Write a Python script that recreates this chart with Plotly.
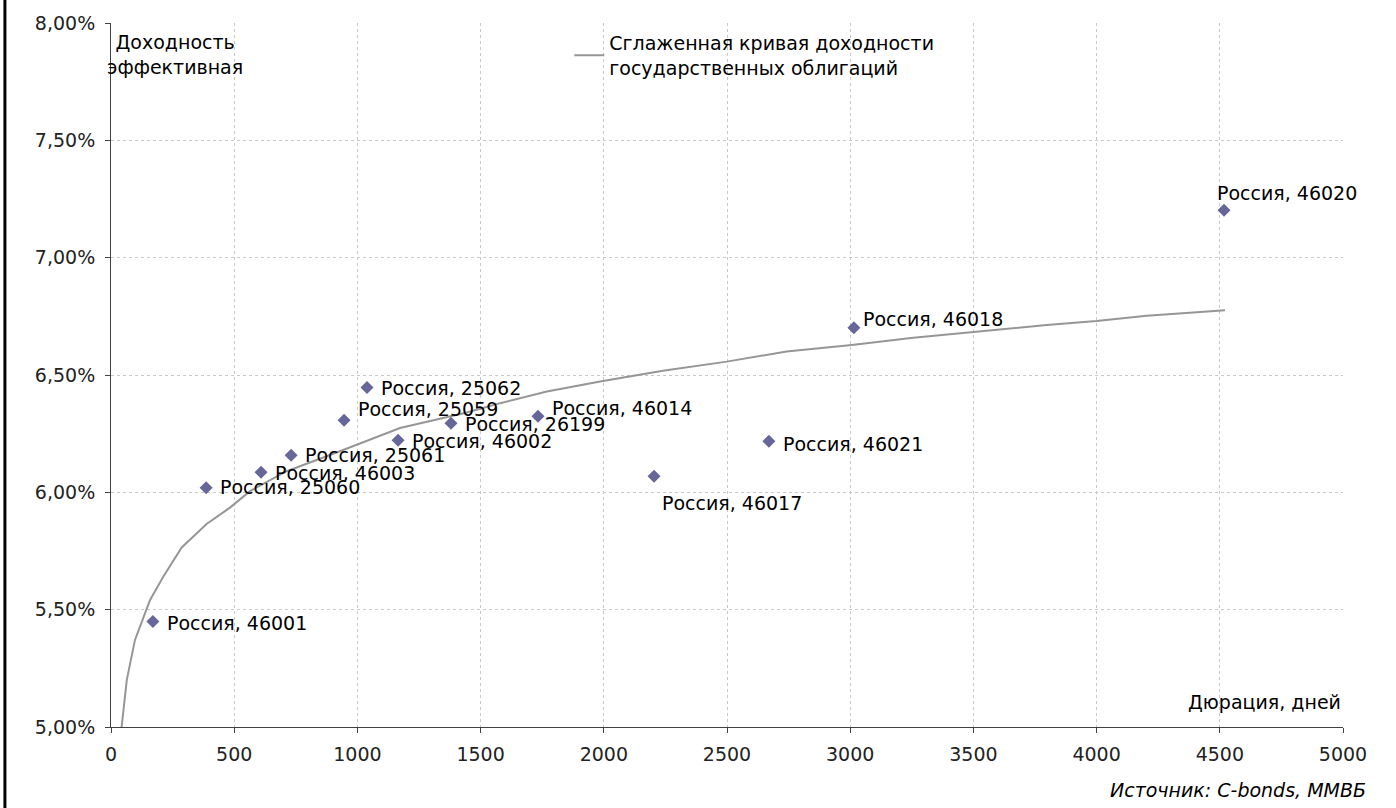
import plotly.graph_objects as go

# ---- data ----
bond_names = ["Россия, 46001", "Россия, 25060", "Россия, 46003", "Россия, 25061",
              "Россия, 25059", "Россия, 25062", "Россия, 46002", "Россия, 26199",
              "Россия, 46014", "Россия, 46017", "Россия, 46021", "Россия, 46018",
              "Россия, 46020"]
bond_duration = [170, 386, 609, 731, 946, 1039, 1165, 1380, 1733, 2204, 2670, 3015, 4517]
bond_yield = [5.45, 6.02, 6.086, 6.158, 6.307, 6.447, 6.222, 6.294, 6.324, 6.069, 6.218, 6.701, 7.202]

curve_duration = [43, 64, 97, 131, 158, 212, 287, 388, 483, 564, 713, 929, 1173, 1444,
                  1579, 1769, 1985, 2240, 2499, 2742, 3006, 3256, 3500, 3797, 4000,
                  4203, 4392, 4521]
curve_yield = [5.00, 5.20, 5.37, 5.47, 5.54, 5.64, 5.765, 5.865, 5.935, 6.005, 6.09,
               6.175, 6.274, 6.34, 6.38, 6.43, 6.472, 6.518, 6.557, 6.60, 6.628, 6.659,
               6.684, 6.713, 6.730, 6.752, 6.766, 6.776]

x_ticks = [0, 500, 1000, 1500, 2000, 2500, 3000, 3500, 4000, 4500, 5000]
y_ticks = [5.0, 5.5, 6.0, 6.5, 7.0, 7.5, 8.0]
y_tick_labels = ["5,00%", "5,50%", "6,00%", "6,50%", "7,00%", "7,50%", "8,00%"]

# label placement (style only): (xanchor, yanchor, xshift, yshift)
label_style = [
    ("left", "middle", 12, -2), ("left", "middle", 12, 1), ("left", "middle", 12, -1),
    ("left", "middle", 12, 0), ("left", "middle", 12, 11), ("left", "middle", 12, -1),
    ("left", "middle", 12, -1), ("left", "middle", 12, -1), ("left", "middle", 12, 8),
    ("left", "top", 6, -14), ("left", "middle", 12, -3), ("left", "middle", 7, 9),
    ("left", "bottom", -9, 4),
]

FONT = "DejaVu Sans, Verdana, sans-serif"
FS = 19

fig = go.Figure()
fig.add_trace(go.Scatter(
    x=curve_duration, y=curve_yield, mode="lines",
    name="Сглаженная кривая доходности<br>государственных облигаций",
    line=dict(color="#969696", width=2),
    hoverinfo="skip",
))
fig.add_trace(go.Scatter(
    x=bond_duration, y=bond_yield, mode="markers",
    marker=dict(symbol="diamond", size=10, color="#666699"),
    showlegend=False, text=bond_names,
))

for name, xd, yd, st in zip(bond_names, bond_duration, bond_yield, label_style):
    xa, ya, xs, ys = st
    fig.add_annotation(x=xd, y=yd, xref="x", yref="y", text=name, showarrow=False,
                       xanchor=xa, yanchor=ya, xshift=xs, yshift=ys,
                       font=dict(family=FONT, size=FS, color="#000000"))

grid = dict(showgrid=True, gridcolor="#c8c8c8", gridwidth=1, griddash="dot")

fig.update_xaxes(range=[0, 5000], tickvals=x_ticks, ticks="outside", ticklen=5,
                 tickcolor="#404040", showline=True, linecolor="#404040", linewidth=1,
                 zeroline=False, ticklabelstandoff=5,
                 tickfont=dict(family=FONT, size=FS, color="#222222"), **grid)
fig.update_yaxes(range=[5.0, 8.0], tickvals=y_ticks, ticktext=y_tick_labels,
                 ticks="outside", ticklen=5, tickcolor="#404040", showline=True,
                 linecolor="#404040", linewidth=1, zeroline=False, ticklabelstandoff=6,
                 tickfont=dict(family=FONT, size=FS, color="#222222"), **grid)

fig.add_annotation(x=0.052, y=1.0, xref="paper", yref="paper",
                   text="Доходность<br>эффективная", showarrow=False,
                   xanchor="center", yanchor="top", align="center", yshift=-6,
                   font=dict(family=FONT, size=FS, color="#000000"))
fig.add_annotation(x=1.0, y=0.0, xref="paper", yref="paper", text="Дюрация, дней",
                   showarrow=False, xanchor="right", yanchor="bottom", yshift=12,
                   font=dict(family=FONT, size=FS, color="#000000"))
fig.add_annotation(x=1.02, y=0.0, xref="paper", yref="paper",
                   text="<i>Источник: C-bonds, ММВБ</i>", showarrow=False,
                   xanchor="right", yanchor="top", yshift=-50,
                   font=dict(family=FONT, size=FS, color="#000000"))

# left black frame line
fig.add_shape(type="line", xref="paper", yref="paper", x0=-0.0861, x1=-0.0861,
              y0=-0.2, y1=1.1, line=dict(color="#000000", width=3))

fig.update_layout(
    width=1396, height=808,
    margin=dict(l=111, r=53, t=20, b=81),
    paper_bgcolor="white", plot_bgcolor="white",
    font=dict(family=FONT, size=FS, color="#000000"),
    legend=dict(x=0.372, y=0.9985, xanchor="left", yanchor="top",
                bgcolor="rgba(0,0,0,0)", font=dict(family=FONT, size=FS)),
)

fig.write_html("out.html", config={"displayModeBar": False},
               post_script="document.body.style.margin='0px';document.body.style.overflow='hidden';")
